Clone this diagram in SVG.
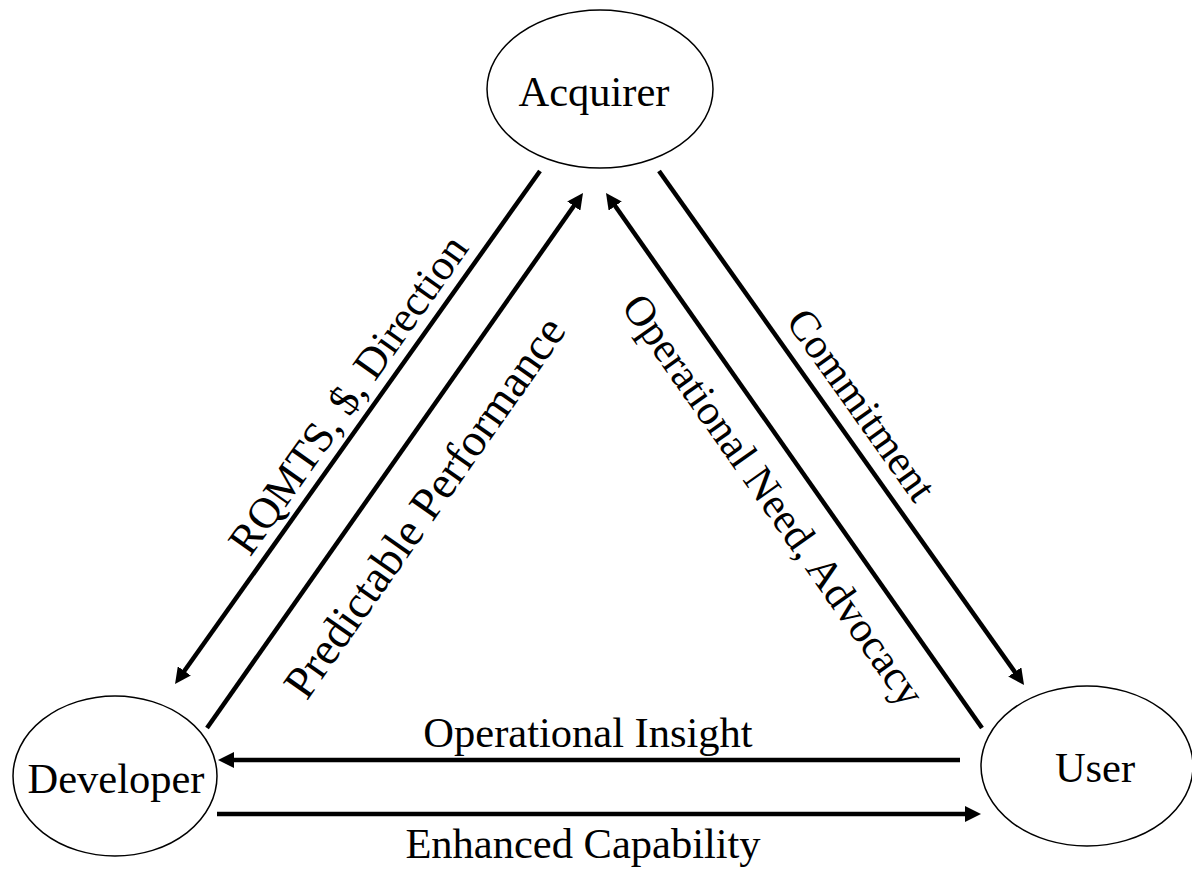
<svg xmlns="http://www.w3.org/2000/svg" width="1192" height="871" viewBox="0 0 1192 871">
<style>
.node ellipse{fill:#fff;stroke:#000;stroke-width:1.5}
text{font-family:"Liberation Serif","Times New Roman",serif;font-size:42.5px;fill:#000;text-anchor:middle}
.conn line{stroke:#000;stroke-width:4.5;marker-end:url(#ah)}
</style>
<defs>
<marker id="ah" markerUnits="userSpaceOnUse" markerWidth="16" markerHeight="16" refX="4" refY="8" orient="auto">
<path d="M0,0 L16,8 L0,16 z" fill="#000"/>
</marker>
</defs>
<rect width="1192" height="871" fill="#fff"/>
<g id="acquirer" class="node">
<ellipse cx="600" cy="89" rx="113" ry="79"/>
<text x="594" y="106">Acquirer</text>
</g>
<g id="developer" class="node">
<ellipse cx="115" cy="776" rx="102" ry="80"/>
<text x="116" y="793">Developer</text>
</g>
<g id="user" class="node">
<ellipse cx="1087" cy="766" rx="106" ry="80"/>
<text x="1095" y="782">User</text>
</g>
<g id="connectors" class="conn">
<line x1="540" y1="171" x2="182" y2="674.2"/>
<line x1="207" y1="728" x2="576.1" y2="202.8"/>
<line x1="659" y1="171" x2="1017.1" y2="675.2"/>
<line x1="982" y1="728" x2="612.9" y2="202.8"/>
<line x1="960" y1="760" x2="230" y2="760"/>
<line x1="217" y1="814" x2="969" y2="814"/>
</g>
<g id="labels">
<text transform="translate(360,403) rotate(-54.6)" style="font-size:43.5px">RQMTS, $, Direction</text>
<text transform="translate(437,516) rotate(-54.9)" style="font-size:46px">Predictable Performance</text>
<text transform="translate(850,413) rotate(54.6)">Commitment</text>
<text transform="translate(762,508) rotate(54.9)">Operational Need, Advocacy</text>
<text x="588" y="747">Operational Insight</text>
<text x="583" y="858">Enhanced Capability</text>
</g>
</svg>
